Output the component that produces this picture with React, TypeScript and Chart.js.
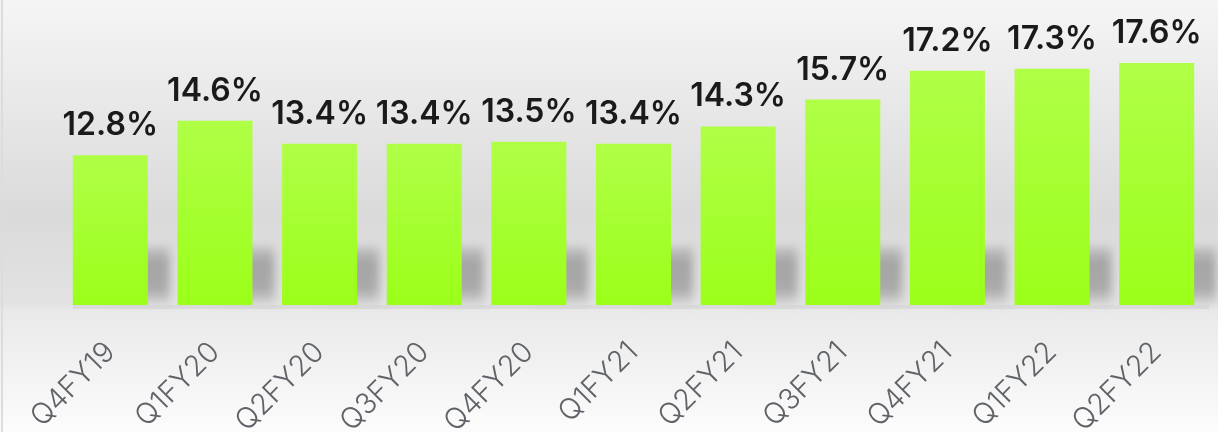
import React, { useEffect, useRef } from "react";
import { Chart, registerables } from "chart.js";

Chart.register(...registerables);

const categories = ["Q4FY19", "Q1FY20", "Q2FY20", "Q3FY20", "Q4FY20", "Q1FY21", "Q2FY21", "Q3FY21", "Q4FY21", "Q1FY22", "Q2FY22"];
const values = [12.8, 14.6, 13.4, 13.4, 13.5, 13.4, 14.3, 15.7, 17.2, 17.3, 17.6];
const valueLabels = ["12.8%", "14.6%", "13.4%", "13.4%", "13.5%", "13.4%", "14.3%", "15.7%", "17.2%", "17.3%", "17.6%"];
const yMin = 5;
const yMax = 20;

const bgPlugin = {
  id: "bg",
  beforeDraw(chart: any) {
    const { ctx, width, height } = chart;
    ctx.save();
    const g = ctx.createLinearGradient(0, 0, 0, height);
    g.addColorStop(0, "#f5f5f5");
    g.addColorStop(0.5, "#dadada");
    g.addColorStop(0.7, "#e2e2e2");
    g.addColorStop(0.72, "#e9e9e9");
    g.addColorStop(1, "#fcfcfc");
    ctx.fillStyle = g;
    ctx.fillRect(0, 0, width, height);
    ctx.fillStyle = "#dcdcdc";
    ctx.fillRect(1, 0, 2, height);
    ctx.restore();
  },
  beforeDatasetsDraw(chart: any) {
    const { ctx, chartArea } = chart;
    const meta = chart.getDatasetMeta(0);
    const bottom = chartArea.bottom;
    ctx.save();
    ctx.filter = "blur(5px)";
    meta.data.forEach((bar: any) => {
      const left = bar.x - bar.width / 2;
      const right = bar.x + bar.width / 2;
      const g = ctx.createLinearGradient(0, bottom - 60, 0, bottom);
      g.addColorStop(0, "rgba(150,150,150,0.35)");
      g.addColorStop(0.3, "rgba(125,125,125,0.6)");
      g.addColorStop(0.75, "rgba(125,125,125,0.55)");
      g.addColorStop(1, "rgba(160,160,160,0.2)");
      ctx.fillStyle = g;
      ctx.beginPath();
      ctx.moveTo(left + 44, bottom - 2);
      ctx.lineTo(left + 20, bottom - 58);
      ctx.lineTo(right + 22, bottom - 58);
      ctx.lineTo(right + 22, bottom - 2);
      ctx.closePath();
      ctx.fill();
    });
    ctx.restore();
    const first = meta.data[0];
    ctx.save();
    ctx.fillStyle = "rgba(205,205,205,0.45)";
    ctx.fillRect(first.x - first.width / 2, bottom, chartArea.right - (first.x - first.width / 2), 4);
    ctx.restore();
  },
  afterDatasetsDraw(chart: any) {
    const { ctx } = chart;
    const meta = chart.getDatasetMeta(0);
    ctx.save();
    ctx.font = "600 32px Inter, 'Noto Sans', sans-serif";
    ctx.fillStyle = "#1a1a1c";
    ctx.textAlign = "center";
    ctx.textBaseline = "alphabetic";
    meta.data.forEach((bar: any, i: number) => {
      ctx.fillText(valueLabels[i], bar.x, bar.y - 20);
    });
    ctx.restore();
  },
};

export default function App() {
  const ref = useRef<HTMLCanvasElement>(null);
  useEffect(() => {
    document.body.style.margin = "0";
    const chart = new Chart(ref.current as HTMLCanvasElement, {
      type: "bar",
      data: {
        labels: categories,
        datasets: [
          {
            data: values,
            backgroundColor: (c: any) => {
              const ch = c.chart;
              const area = ch.chartArea;
              if (!area) return "#a5ff2e";
              const ys = ch.scales.y;
              const v = c.raw as number;
              const top = ys.getPixelForValue(v);
              const bot = ys.getPixelForValue(yMin);
              const g = ch.ctx.createLinearGradient(0, top, 0, bot);
              g.addColorStop(0, "#b0ff47");
              g.addColorStop(1, "#9bff19");
              return g;
            },
            borderWidth: 0,
            categoryPercentage: 1,
            barPercentage: 0.717,
          },
        ],
      },
      options: {
        animation: false,
        responsive: false,
        layout: { padding: { left: 58, right: 9, top: 17, bottom: 0 } },
        plugins: { legend: { display: false }, tooltip: { enabled: false } },
        scales: {
          y: { display: false, min: yMin, max: yMax },
          x: {
            grid: { display: false },
            border: { display: false },
            ticks: {
              maxRotation: 45,
              minRotation: 45,
              color: "#5f6368",
              font: { family: "Inter, 'Noto Sans', sans-serif", size: 29, weight: 300 },
              padding: 22,
            },
            afterFit(scale: any) {
              scale.height = 127;
            },
          },
        },
      },
      plugins: [bgPlugin],
    });
    return () => chart.destroy();
  }, []);
  return <canvas ref={ref} width={1218} height={432} style={{ display: "block" }} />;
}
